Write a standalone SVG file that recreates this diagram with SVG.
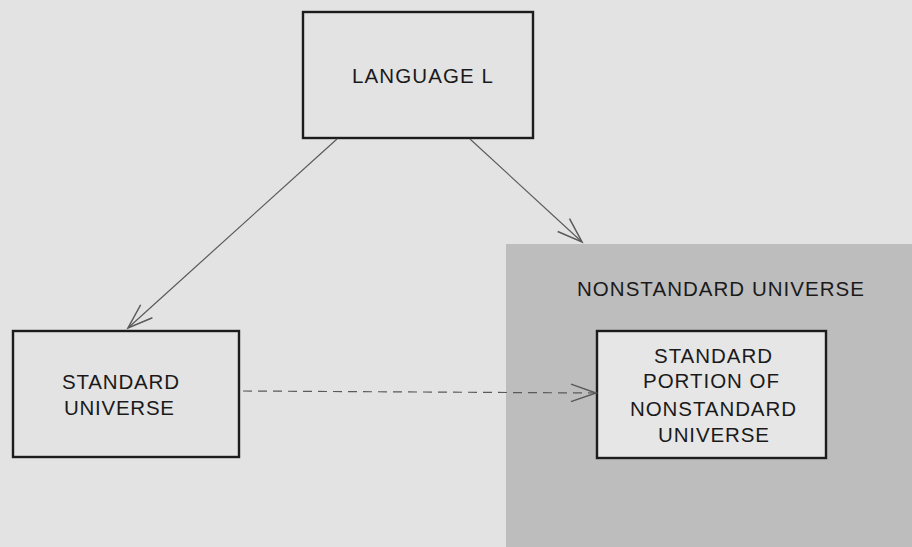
<svg xmlns="http://www.w3.org/2000/svg" width="912" height="547" viewBox="0 0 912 547">
<defs>
<style>
.box{fill:none;stroke:#1c1c1c;stroke-width:2.4}
.lbl{font-family:"Liberation Sans",Arial,sans-serif;font-size:20.5px;fill:#1a1a1a;text-anchor:start}
.conn{fill:none;stroke:#5a5a5a;stroke-width:1.2}
.dash{stroke-dasharray:9 6}
</style>
<marker id="arr" markerUnits="userSpaceOnUse" markerWidth="30" markerHeight="30" viewBox="-22 -10 24 20" refX="0" refY="0" orient="auto">
<path d="M-20,-7 L0,0 L-20,7" fill="none" stroke="#5a5a5a" stroke-width="1.2"/>
</marker>
</defs>
<rect x="0" y="0" width="912" height="547" fill="#e3e3e3"/>
<g id="nonstandard-universe">
<rect x="506" y="244" width="406" height="303" fill="#bdbdbd"/>
<text class="lbl" x="577" y="296" textLength="287" lengthAdjust="spacing">NONSTANDARD UNIVERSE</text>
</g>
<g id="language-l">
<rect class="box" x="303" y="12" width="230" height="126"/>
<text class="lbl" x="352" y="83" textLength="141" lengthAdjust="spacing">LANGUAGE L</text>
</g>
<g id="standard-universe">
<rect class="box" x="13" y="331" width="226" height="126"/>
<text class="lbl" x="62" y="389" textLength="117" lengthAdjust="spacing">STANDARD</text>
<text class="lbl" x="64" y="415" textLength="110" lengthAdjust="spacing">UNIVERSE</text>
</g>
<g id="standard-portion">
<rect class="box" x="597" y="331" width="229" height="127" style="fill:#e6e6e6"/>
<text class="lbl" x="654" y="363" textLength="118" lengthAdjust="spacing">STANDARD</text>
<text class="lbl" x="643" y="388" textLength="136" lengthAdjust="spacing">PORTION OF</text>
<text class="lbl" x="630" y="416" textLength="166" lengthAdjust="spacing">NONSTANDARD</text>
<text class="lbl" x="658" y="442" textLength="111" lengthAdjust="spacing">UNIVERSE</text>
</g>
<g id="connectors">
<line class="conn" x1="337" y1="139" x2="128" y2="328" marker-end="url(#arr)"/>
<line class="conn" x1="470" y1="139" x2="582" y2="242" marker-end="url(#arr)"/>
<line class="conn dash" x1="243" y1="391" x2="596" y2="393" marker-end="url(#arr)"/>
</g>
</svg>
